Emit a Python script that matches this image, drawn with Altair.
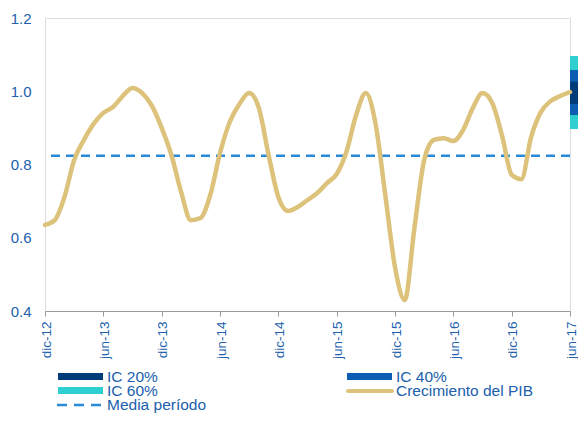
import altair as alt
import pandas as pd

# --- data -------------------------------------------------------------
# monthly index: 0 = dic-12 ... 54 = jun-17
pib = [0.635, 0.648, 0.711, 0.812, 0.867, 0.911, 0.941, 0.957, 0.987, 1.009,
       0.995, 0.960, 0.900, 0.826, 0.725, 0.648, 0.654, 0.717, 0.831, 0.916,
       0.965, 0.995, 0.954, 0.826, 0.711, 0.673, 0.684, 0.703, 0.722, 0.749,
       0.774, 0.834, 0.935, 0.995, 0.911, 0.717, 0.520, 0.430, 0.627, 0.812,
       0.867, 0.872, 0.864, 0.894, 0.954, 0.995, 0.968, 0.880, 0.772, 0.760,
       0.875, 0.943, 0.973, 0.987, 0.998]
months = list(range(len(pib)))
tick_labels = ["dic-12", "jun-13", "dic-13", "jun-14", "dic-14",
               "jun-15", "dic-15", "jun-16", "dic-16", "jun-17"]
media = 0.824
ic_names = ["IC 60%", "IC 40%", "IC 20%"]
ic_low = [0.897, 0.935, 0.965]
ic_high = [1.096, 1.058, 1.026]
legend_labels = ["IC 20%", "IC 40%", "IC 60%", "Crecimiento del PIB", "Media período"]

# --- styles -----------------------------------------------------------
BLUE_TXT = "#2060ad"
TAN = "#dcc27a"
DASH = "#2b8ad8"
IC_COL = {"IC 20%": "#003c7a", "IC 40%": "#0b5eb2", "IC 60%": "#2ecfd0"}
W, H = 525, 293
FONT = "Liberation Sans"

df = pd.DataFrame({"m": months, "v": pib})
fan = pd.DataFrame({"name": ic_names, "lo": ic_low, "hi": ic_high,
                    "x0": [54.0] * 3, "x1": [55.7] * 3})

xscale = alt.Scale(domain=[0, 54], nice=False, zero=False)
yscale = alt.Scale(domain=[0.4, 1.2], nice=False, zero=False)

label_arr = "[" + ",".join("'%s'" % t for t in tick_labels) + "]"

fan_layers = []
for nm in ic_names:
    fan_layers.append(
        alt.Chart(fan[fan["name"] == nm]).mark_rect(color=IC_COL[nm], clip=False).encode(
            x=alt.X("x0:Q", scale=xscale), x2="x1:Q",
            y=alt.Y("lo:Q", scale=yscale), y2="hi:Q")
    )

line = alt.Chart(df).mark_line(
    interpolate="monotone", color=TAN, strokeWidth=4.5, strokeCap="round"
).encode(
    x=alt.X("m:Q", scale=xscale, title=None,
            axis=alt.Axis(values=list(range(0, 55, 6)),
                          labelExpr=label_arr + "[round(datum.value/6)]",
                          labelAngle=270, labelAlign="right", labelBaseline="middle",
                          labelPadding=5, labelOffset=1, labelColor=BLUE_TXT,
                          labelFontSize=13.5, labelFont=FONT,
                          domainColor="#9a9a9a", tickColor="#9a9a9a",
                          tickSize=5, grid=False, labelOverlap=False)),
    y=alt.Y("v:Q", scale=yscale, title=None,
            axis=alt.Axis(values=[0.4, 0.6, 0.8, 1.0, 1.2], format=".1f",
                          domain=False, ticks=False, grid=False, labelPadding=14,
                          labelColor=BLUE_TXT, labelFontSize=15, labelFont=FONT)),
)

rule = alt.Chart(pd.DataFrame({"y": [media]})).mark_rule(
    color=DASH, strokeWidth=2.5, strokeDash=[9, 6]
).encode(y=alt.Y("y:Q", scale=yscale))

# --- manual legend (2 columns, row-major) ----------------------------
one = pd.DataFrame({"a": [0]})
leg_layers = []
row_y = [359, 373, 387]
col_x = [13, 302]
for i, lab in enumerate(legend_labels):
    r, c = i // 2, i % 2
    x0 = col_x[c]
    yy = row_y[r]
    if lab.startswith("IC"):
        sym = alt.Chart(one).mark_rect(color=IC_COL[lab]).encode(
            x=alt.value(x0), x2=alt.value(x0 + 45),
            y=alt.value(yy - 4), y2=alt.value(yy + 3))
    elif lab.startswith("Crec"):
        sym = alt.Chart(one).mark_rule(color=TAN, strokeWidth=4, strokeCap="round").encode(
            x=alt.value(x0 + 1), x2=alt.value(x0 + 45), y=alt.value(yy))
    else:
        sym = alt.Chart(one).mark_rule(color=DASH, strokeWidth=2.5, strokeDash=[10, 7]).encode(
            x=alt.value(x0 - 1), x2=alt.value(x0 + 45), y=alt.value(yy))
    txt = alt.Chart(one).mark_text(
        text=lab, align="left", baseline="middle", fontSize=15.5, font=FONT,
        color=BLUE_TXT
    ).encode(x=alt.value(x0 + 49), y=alt.value(yy))
    leg_layers += [sym, txt]

chart = alt.layer(rule, *fan_layers, line, *leg_layers).properties(
    width=W, height=H,
    autosize=alt.AutoSizeParams(type="none"),
    padding={"left": 37, "top": 10, "right": 8, "bottom": 103},
).configure_view(stroke=None).configure(font=FONT)

chart.save("out.html", embed_options={"renderer": "svg", "actions": False})
